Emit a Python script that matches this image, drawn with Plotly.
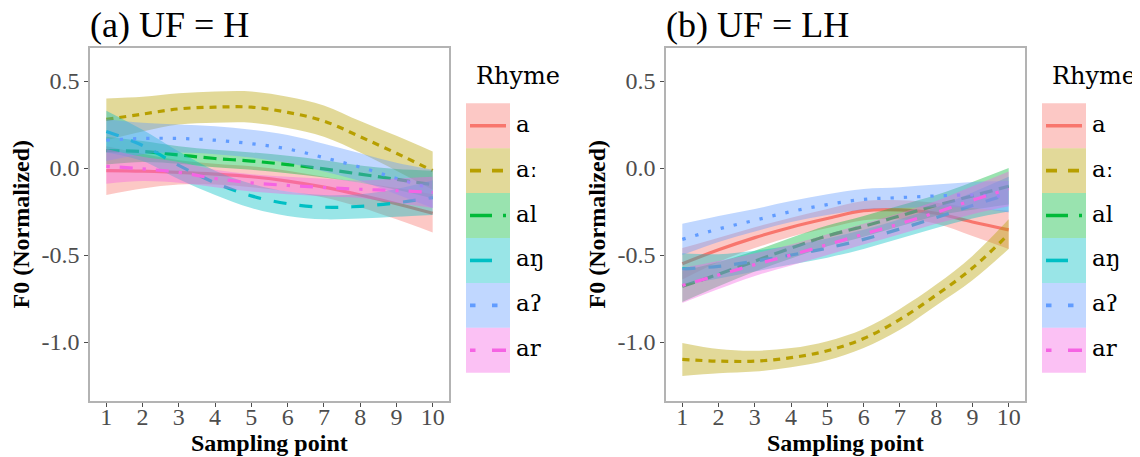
import plotly.graph_objects as go

W, H = 1140, 457
OFF = 8  # default page body margin
FIG_W, FIG_H = W - OFF, H - OFF

# ---------------- data ----------------
SAMPLING_POINTS = [1, 2, 3, 4, 5, 6, 7, 8, 9, 10]
RHYMES = ["a", "aː", "al", "aŋ", "aʔ", "ar"]
COLORS = ["#F8766D", "#B79F00", "#00BA38", "#00BFC4", "#619CFF", "#F564E3"]
DASHES = ["solid", "7px,6px", "13px,6.5px", "13px,13px", "3.3px,10px", "3.3px,10px,13px,10px"]
KEY_DASHES = ["solid", "11px,11px", "22px,11px", "22px,22px", "5.5px,16.5px", "5.5px,16.5px,22px,16.5px"]

# Panel (a) UF = H : smoothed mean F0 and CI half-width per rhyme
H_MEAN = {
    "a":  [-0.015, -0.018, -0.025, -0.035, -0.05, -0.075, -0.11, -0.155, -0.205, -0.26],
    "aː": [0.28, 0.31, 0.34, 0.35, 0.35, 0.32, 0.27, 0.18, 0.085, -0.015],
    "al": [0.10, 0.095, 0.075, 0.055, 0.04, 0.02, -0.005, -0.035, -0.065, -0.095],
    "aŋ": [0.21, 0.13, 0.015, -0.085, -0.16, -0.205, -0.225, -0.22, -0.20, -0.17],
    "aʔ": [0.16, 0.17, 0.17, 0.16, 0.14, 0.11, 0.06, 0.005, -0.06, -0.12],
    "ar": [0.01, -0.005, -0.025, -0.06, -0.085, -0.10, -0.112, -0.122, -0.13, -0.14],
}
H_CI = {
    "a":  [0.14, 0.10, 0.07, 0.06, 0.06, 0.06, 0.06, 0.07, 0.09, 0.11],
    "aː": [0.12, 0.10, 0.09, 0.09, 0.09, 0.09, 0.09, 0.09, 0.10, 0.11],
    "al": [0.08, 0.06, 0.05, 0.05, 0.05, 0.05, 0.05, 0.05, 0.06, 0.08],
    "aŋ": [0.12, 0.09, 0.08, 0.07, 0.07, 0.07, 0.07, 0.07, 0.08, 0.10],
    "aʔ": [0.12, 0.09, 0.08, 0.08, 0.08, 0.08, 0.08, 0.08, 0.09, 0.11],
    "ar": [0.10, 0.07, 0.06, 0.05, 0.05, 0.05, 0.05, 0.05, 0.07, 0.09],
}
# Panel (b) UF = LH
LH_MEAN = {
    "a":  [-0.55, -0.47, -0.40, -0.34, -0.29, -0.245, -0.24, -0.26, -0.31, -0.355],
    "aː": [-1.10, -1.11, -1.11, -1.09, -1.05, -0.98, -0.87, -0.73, -0.575, -0.38],
    "al": [-0.68, -0.61, -0.535, -0.46, -0.39, -0.335, -0.275, -0.215, -0.16, -0.105],
    "aŋ": [-0.58, -0.565, -0.535, -0.50, -0.46, -0.41, -0.35, -0.285, -0.215, -0.15],
    "aʔ": [-0.41, -0.35, -0.30, -0.25, -0.21, -0.18, -0.17, -0.16, -0.155, -0.165],
    "ar": [-0.675, -0.615, -0.555, -0.50, -0.44, -0.38, -0.32, -0.255, -0.185, -0.12],
}
LH_CI = {
    "a":  [0.09, 0.07, 0.06, 0.055, 0.055, 0.055, 0.055, 0.06, 0.08, 0.11],
    "aː": [0.095, 0.07, 0.06, 0.055, 0.055, 0.055, 0.06, 0.06, 0.07, 0.085],
    "al": [0.09, 0.07, 0.06, 0.06, 0.06, 0.06, 0.06, 0.06, 0.08, 0.105],
    "aŋ": [0.09, 0.07, 0.06, 0.055, 0.055, 0.055, 0.055, 0.06, 0.075, 0.10],
    "aʔ": [0.09, 0.075, 0.065, 0.06, 0.06, 0.06, 0.06, 0.065, 0.075, 0.09],
    "ar": [0.10, 0.08, 0.065, 0.06, 0.06, 0.06, 0.06, 0.065, 0.08, 0.10],
}

PANEL_TITLES = ["(a) UF = H", "(b) UF = LH"]
Y_TICKS = [0.5, 0.0, -0.5, -1.0]
Y_TICK_TEXT = ["0.5", "0.0", "-0.5", "-1.0"]
X_TITLE = "Sampling point"
Y_TITLE = "F0 (Normalized)"
LEGEND_TITLE = "Rhyme"


def rgba(hexc, a):
    h = hexc.lstrip("#")
    return "rgba(%d,%d,%d,%s)" % (int(h[0:2], 16), int(h[2:4], 16), int(h[4:6], 16), a)


def px2x(px):
    return (px - OFF) / FIG_W


def px2y(py):
    return 1 - (py - OFF) / FIG_H


SERIF = "Liberation Serif, Times New Roman, serif"
LEG_FONT = "DejaVu Serif, serif"

fig = go.Figure()

panels = [(H_MEAN, H_CI, "x", "y"), (LH_MEAN, LH_CI, "x2", "y2")]
for means, cis, xa, ya in panels:
    for name, col, dash in zip(RHYMES, COLORS, DASHES):
        m = means[name]
        c = cis[name]
        lo = [v - e for v, e in zip(m, c)]
        hi = [v + e for v, e in zip(m, c)]
        fig.add_trace(go.Scatter(x=SAMPLING_POINTS, y=lo, mode="lines", xaxis=xa, yaxis=ya,
                                 line=dict(width=0, shape="spline", color=col),
                                 showlegend=False, hoverinfo="skip"))
        fig.add_trace(go.Scatter(x=SAMPLING_POINTS, y=hi, mode="lines", xaxis=xa, yaxis=ya,
                                 line=dict(width=0, shape="spline", color=col),
                                 fill="tonexty", fillcolor=rgba(col, 0.4),
                                 showlegend=False, hoverinfo="skip"))
        fig.add_trace(go.Scatter(x=SAMPLING_POINTS, y=m, mode="lines", xaxis=xa, yaxis=ya,
                                 name=name, line=dict(width=3.2, shape="spline", color=col, dash=dash),
                                 showlegend=False))

# geometry (screen pixels)
plot_top, plot_bot = 48, 401
left_dom = (90, 449)
right_dom = (666, 1025)

axis_common = dict(showgrid=False, zeroline=False, showline=True, mirror=True,
                   linecolor="#b3b3b3", linewidth=1.6, ticks="outside", ticklen=4,
                   tickcolor="#4d4d4d", tickwidth=1,
                   tickfont=dict(family=SERIF, size=24, color="#4d4d4d"))

for i, dom in enumerate([left_dom, right_dom]):
    sx = "" if i == 0 else "2"
    fig.update_layout(**{
        "xaxis" + sx: dict(domain=[px2x(dom[0]), px2x(dom[1])], range=[0.55, 10.45],
                           tickvals=SAMPLING_POINTS, anchor="y" + sx, ticklabelstandoff=-11,
                           **axis_common),
        "yaxis" + sx: dict(domain=[px2y(plot_bot), px2y(plot_top)], range=[-1.339, 0.69],
                           tickvals=Y_TICKS, ticktext=Y_TICK_TEXT, anchor="x" + sx, **axis_common),
    })

annotations = []
shapes = []
for i, dom in enumerate([left_dom, right_dom]):
    # panel title
    annotations.append(dict(x=px2x(dom[0] - 2), y=px2y(25), xref="paper", yref="paper",
                            xanchor="left", yanchor="middle", showarrow=False,
                            text=PANEL_TITLES[i], font=dict(family=SERIF, size=36, color="black")))
    # x title
    annotations.append(dict(x=px2x((dom[0] + dom[1]) / 2), y=px2y(443), xref="paper", yref="paper",
                            xanchor="center", yanchor="middle", showarrow=False,
                            text="<b>%s</b>" % X_TITLE, font=dict(family=SERIF, size=24, color="black")))
    # y title
    annotations.append(dict(x=px2x(dom[0] - 70), y=px2y((plot_top + plot_bot) / 2), xref="paper", yref="paper",
                            xanchor="center", yanchor="middle", showarrow=False, textangle=-90,
                            text="<b>%s</b>" % Y_TITLE, font=dict(family=SERIF, size=24, color="black")))
    # legend
    kx0 = dom[1] + 17
    kx1 = kx0 + 44
    ky0 = 103.3
    kh = 44.9
    annotations.append(dict(x=px2x(kx0 + 8), y=px2y(76), xref="paper", yref="paper",
                            xanchor="left", yanchor="middle", showarrow=False,
                            text=LEGEND_TITLE, font=dict(family=LEG_FONT, size=24, color="black")))
    for j, (name, col, dash) in enumerate(zip(RHYMES, COLORS, KEY_DASHES)):
        y0 = ky0 + j * kh
        y1 = y0 + kh
        yc = (y0 + y1) / 2
        shapes.append(dict(type="rect", xref="paper", yref="paper",
                           x0=px2x(kx0), x1=px2x(kx1), y0=px2y(y1), y1=px2y(y0),
                           fillcolor=rgba(col, 0.4), line=dict(width=0), layer="above"))
        shapes.append(dict(type="line", xref="paper", yref="paper",
                           x0=px2x(kx0 + 4), x1=px2x(kx1 - 4), y0=px2y(yc), y1=px2y(yc),
                           line=dict(color=col, width=3.6, dash=dash), layer="above"))
        annotations.append(dict(x=px2x(kx1 + 4), y=px2y(yc - 2), xref="paper", yref="paper",
                                xanchor="left", yanchor="middle", showarrow=False,
                                text=name, font=dict(family=LEG_FONT, size=23, color="black")))

fig.update_layout(width=FIG_W, height=FIG_H, margin=dict(l=0, r=0, t=0, b=0),
                  paper_bgcolor="white", plot_bgcolor="white", showlegend=False,
                  annotations=annotations, shapes=shapes)

fig.write_html("out.html")
